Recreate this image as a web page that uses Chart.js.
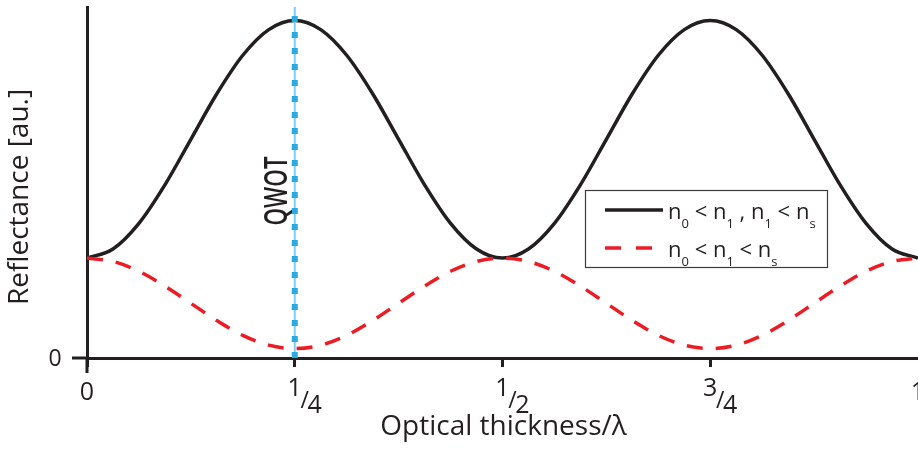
<!DOCTYPE html>
<html>
<head>
<meta charset="utf-8">
<script src="https://cdn.jsdelivr.net/npm/chart.js@4.4.0/dist/chart.umd.min.js"></script>
<style>
  html, body { margin: 0; padding: 0; background: #fff; }
  #wrap { width: 918px; height: 449px; }
</style>
</head>
<body>
<div id="wrap"><canvas id="chart"></canvas></div>
<script>
// optical thickness in units of wavelength
const thickness = [0, 0.03125, 0.0625, 0.09375, 0.125, 0.15625, 0.1875, 0.21875, 0.25,
  0.28125, 0.3125, 0.34375, 0.375, 0.40625, 0.4375, 0.46875, 0.5,
  0.53125, 0.5625, 0.59375, 0.625, 0.65625, 0.6875, 0.71875, 0.75,
  0.78125, 0.8125, 0.84375, 0.875, 0.90625, 0.9375, 0.96875, 1];

// n0 < n1, n1 < ns  (high index layer)
const reflHigh = [0.296, 0.323, 0.399, 0.513, 0.648, 0.783, 0.897, 0.973, 1.000,
  0.973, 0.897, 0.783, 0.648, 0.513, 0.399, 0.323, 0.296,
  0.323, 0.399, 0.513, 0.648, 0.783, 0.897, 0.973, 1.000,
  0.973, 0.897, 0.783, 0.648, 0.513, 0.399, 0.323, 0.296];

// n0 < n1 < ns  (intermediate index layer)
const reflLow = [0.296, 0.286, 0.257, 0.213, 0.162, 0.111, 0.067, 0.038, 0.028,
  0.038, 0.067, 0.111, 0.162, 0.213, 0.257, 0.286, 0.296,
  0.286, 0.257, 0.213, 0.162, 0.111, 0.067, 0.038, 0.028,
  0.038, 0.067, 0.111, 0.162, 0.213, 0.257, 0.286, 0.296];

const tickValues = [0, 0.25, 0.5, 0.75, 1];
const tickLabels = ['0', '1/4', '1/2', '3/4', '1'];
const qwotAt = 0.25;
const yMax = 1.04;

const ink = '#231f20';
const red = '#ed1c24';
const blue = '#29abe2';
const font = '"Open Sans", "Noto Sans", sans-serif';

function pts(ys) {
  return thickness.map((x, i) => ({ x: x, y: ys[i] }));
}

// draws "n" followed by a subscript, etc. pieces: [text, isSub]
function drawRich(ctx, pieces, x, y) {
  pieces.forEach(([t, sub]) => {
    ctx.font = sub ? '13px ' + font : '22px ' + font;
    ctx.fillText(t, x, sub ? y + 9 : y);
    x += ctx.measureText(t).width;
  });
}

const decorations = {
  id: 'decorations',
  afterDraw(chart) {
    const ctx = chart.ctx;
    const xs = chart.scales.x;
    const ys = chart.scales.y;
    const { left, bottom } = chart.chartArea;
    ctx.save();

    // axis stubs past the origin
    ctx.strokeStyle = ink;
    ctx.lineWidth = 3;
    ctx.beginPath();
    ctx.moveTo(left, bottom);
    ctx.lineTo(left, bottom + 15);
    ctx.moveTo(left - 15, bottom);
    ctx.lineTo(left, bottom);
    ctx.stroke();

    // x tick labels, fractions set as raised numerator / lowered denominator
    ctx.fillStyle = ink;
    ctx.textAlign = 'center';
    ctx.textBaseline = 'alphabetic';
    tickValues.forEach((v, i) => {
      const px = xs.getPixelForValue(v);
      const lab = tickLabels[i];
      if (lab.includes('/')) {
        const [num, den] = lab.split('/');
        ctx.font = '25px ' + font;
        ctx.fillText(num, px, 396);
        ctx.fillText(den, px + 20, 413);
        ctx.font = '23px ' + font;
        ctx.fillText('/', px + 10, 408);
      } else {
        ctx.font = '25px ' + font;
        ctx.fillText(lab, px, 400);
      }
    });

    // y zero label
    ctx.font = '23px ' + font;
    ctx.fillText('0', left - 32, ys.getPixelForValue(0) + 8);

    // axis titles
    ctx.font = '28px ' + font;
    ctx.fillText('Optical thickness/\u03bb', (xs.left + xs.right) / 2 + 1, 435);
    ctx.save();
    ctx.translate(28, 197);
    ctx.rotate(-Math.PI / 2);
    ctx.font = '28px ' + font;
    ctx.fillText('Reflectance [au.]', 0, 0);
    ctx.restore();

    // QWOT marker label
    ctx.save();
    ctx.translate(xs.getPixelForValue(qwotAt) - 17, 191);
    ctx.rotate(-Math.PI / 2);
    ctx.scale(0.7, 1);
    ctx.font = '600 32px ' + font;
    ctx.textBaseline = 'middle';
    ctx.fillText('QWOT', 0, 0);
    ctx.restore();

    // legend
    ctx.lineWidth = 1.2;
    ctx.strokeStyle = '#3a3a3a';
    ctx.strokeRect(585.5, 190.5, 242, 77);
    ctx.lineWidth = 3.5;
    ctx.strokeStyle = ink;
    ctx.beginPath();
    ctx.moveTo(605, 210);
    ctx.lineTo(663, 210);
    ctx.stroke();
    ctx.strokeStyle = red;
    ctx.setLineDash([16, 15]);
    ctx.beginPath();
    ctx.moveTo(605, 248);
    ctx.lineTo(653, 248);
    ctx.stroke();
    ctx.setLineDash([]);
    ctx.textAlign = 'left';
    ctx.fillStyle = ink;
    drawRich(ctx, [['n'], ['0', 1], [' < '], ['n'], ['1', 1], [' , '], ['n'], ['1', 1], [' < '], ['n'], ['s', 1]], 668, 219);
    drawRich(ctx, [['n'], ['0', 1], [' < '], ['n'], ['1', 1], [' < '], ['n'], ['s', 1]], 668, 257);

    ctx.restore();
  }
};

new Chart(document.getElementById('chart'), {
  type: 'line',
  data: {
    datasets: [
      {
        // QWOT marker: square dots over a pale guide line
        data: [{ x: qwotAt, y: 0 }, { x: qwotAt, y: yMax }],
        borderColor: blue,
        borderWidth: 6,
        borderDash: [6, 10],
        borderCapStyle: 'butt',
        pointRadius: 0,
        order: 0
      },
      {
        data: [{ x: qwotAt, y: 0 }, { x: qwotAt, y: yMax }],
        borderColor: '#7ccef0',
        borderWidth: 2,
        pointRadius: 0,
        order: 1
      },
      {
        label: 'n0 < n1 < ns',
        data: pts(reflLow),
        borderColor: red,
        borderWidth: 3.5,
        borderDash: [16, 13],
        borderCapStyle: 'butt',
        pointRadius: 0,
        cubicInterpolationMode: 'monotone',
        order: 2
      },
      {
        label: 'n0 < n1 , n1 < ns',
        data: pts(reflHigh),
        borderColor: ink,
        borderWidth: 3.5,
        pointRadius: 0,
        cubicInterpolationMode: 'monotone',
        order: 3
      }
    ]
  },
  options: {
    responsive: true,
    maintainAspectRatio: false,
    animation: false,
    layout: { padding: { top: 7, right: 0, left: 0, bottom: 0 } },
    plugins: {
      legend: { display: false },
      tooltip: { enabled: false }
    },
    scales: {
      x: {
        type: 'linear',
        min: 0,
        max: 1,
        afterBuildTicks: s => { s.ticks = tickValues.slice(0, 4).map(v => ({ value: v })); },
        afterFit: s => { s.height = 91; },
        ticks: { display: false },
        grid: { drawOnChartArea: false, drawTicks: true, tickLength: 9, color: ink, lineWidth: 3 },
        border: { display: true, color: ink, width: 3 }
      },
      y: {
        min: 0,
        max: yMax,
        afterBuildTicks: s => { s.ticks = [{ value: 0 }]; },
        afterFit: s => { s.width = 87; },
        ticks: { display: false },
        grid: { drawOnChartArea: false, drawTicks: false },
        border: { display: true, color: ink, width: 3 }
      }
    }
  },
  plugins: [decorations]
});
</script>
</body>
</html>
